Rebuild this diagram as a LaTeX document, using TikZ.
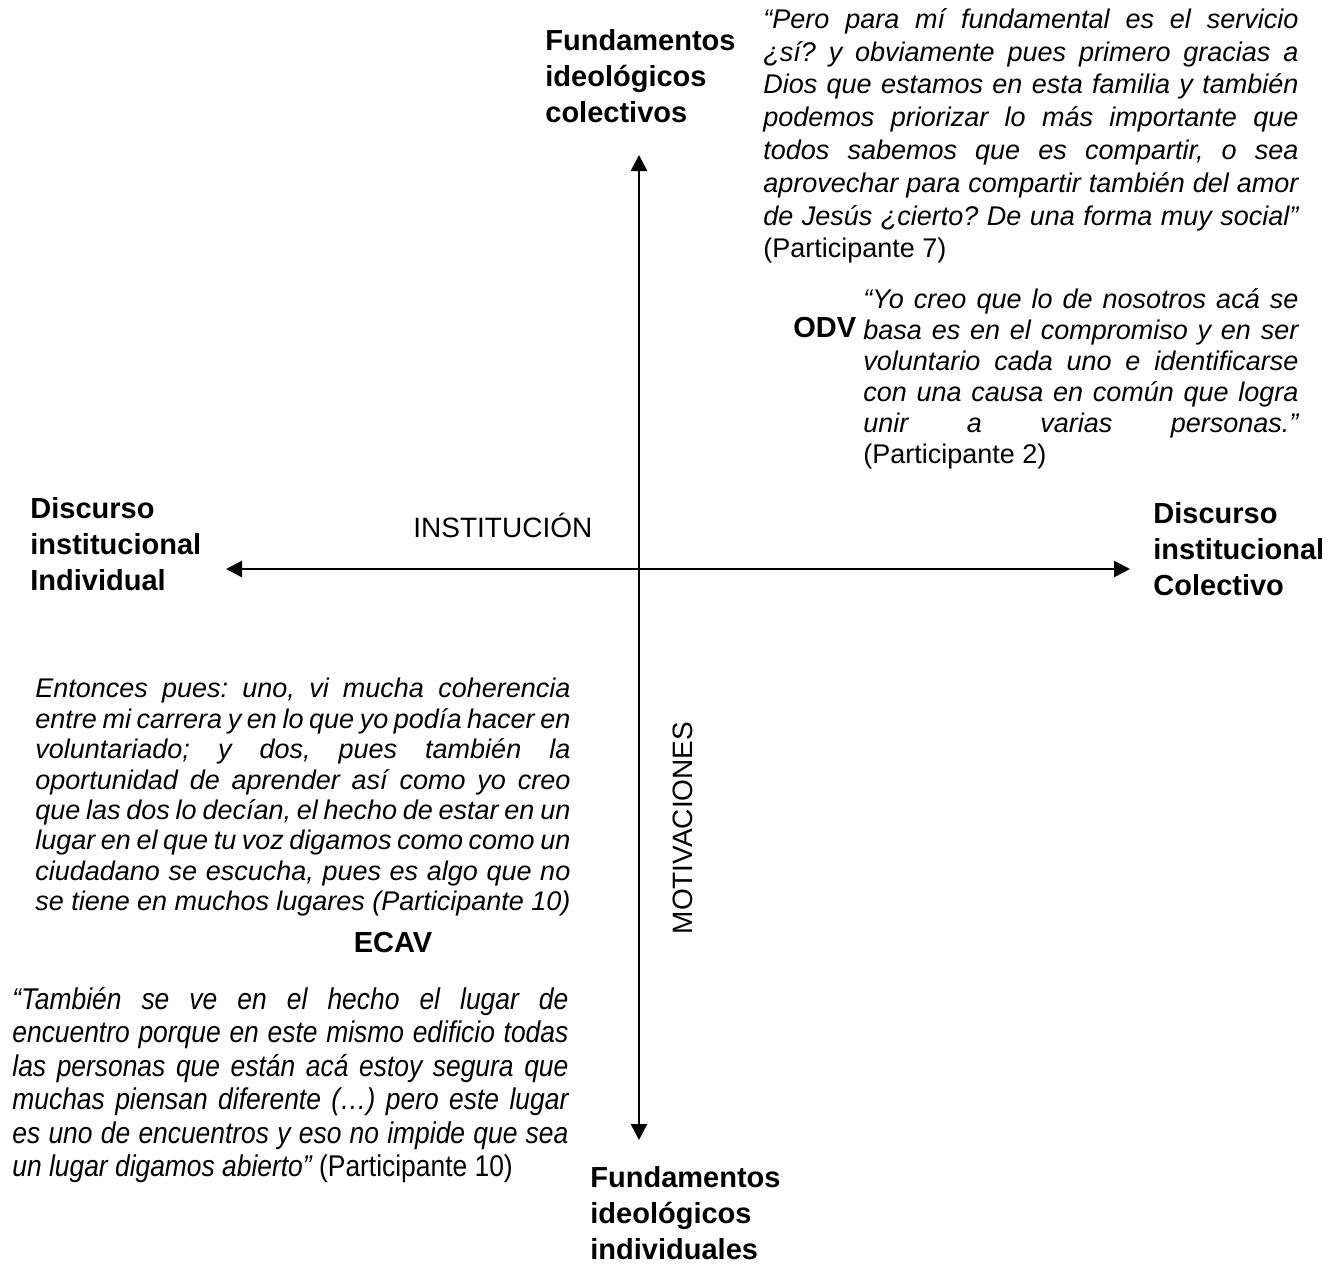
\documentclass[tikz,border=0pt]{standalone}
\usepackage{fontspec}
\setmainfont{Liberation Sans}
\newfontfamily\tallfont[FakeStretch=0.88]{Liberation Sans}
\usetikzlibrary{arrows.meta}
\frenchspacing

\begin{document}
\begin{tikzpicture}[
  x=0.5pt, y=-0.5pt,
  axis/.style={{Triangle[length=8pt,width=8pt]}-{Triangle[length=8pt,width=8pt]}, line width=1.3pt},
  pole/.style={font=\fontsize{14.5}{18}\selectfont\bfseries, align=left, anchor=north west, inner sep=0pt},
  quotebox/.style={font=\fontsize{13.5}{15.2}\selectfont\itshape, align=justify, anchor=north west, inner sep=0pt},
  axislabel/.style={font=\fontsize{14}{17}\selectfont, inner sep=0pt}
]
\useasboundingbox (0,0) rectangle (1339,1264);

% axis ends
\coordinate (n) at (639,155);
\coordinate (s) at (639,1140);
\coordinate (w) at (226,569);
\coordinate (e) at (1130,569);

\draw[axis] (s) -- (n);
\draw[axis] (w) -- (e);

% poles
\node[pole] (fundcol) at (545,29) {Fundamentos\\ideológicos\\colectivos};
\node[pole] (fundind) at (590,1166) {Fundamentos\\ideológicos\\individuales};
\node[pole] (discind) at (30,497) {Discurso\\institucional\\Individual};
\node[pole] (disccol) at (1153,502) {Discurso\\institucional\\Colectivo};

\node[axislabel, anchor=west] (inst) at (413,525) {INSTITUCIÓN};
\node[axislabel, rotate=90] (motiv) at (683,828) {MOTIVACIONES};

% organisations
\node[pole] (odv) at (793,317) {ODV};
\node[pole, anchor=center] (ecav) at (393,943) {ECAV};

% quotes
\node[quotebox, text width=267.5pt, font=\fontsize{13.5}{16.4}\selectfont\itshape] (pseven) at (763,8) {“Pero para mí fundamental es el servicio \linebreak ¿sí? y obviamente pues primero gracias a \linebreak Dios que estamos en esta familia y también \linebreak podemos priorizar lo más importante que \linebreak todos sabemos que es compartir, o sea \linebreak aprovechar para compartir también del amor \linebreak de Jesús ¿cierto? De una forma muy social” \linebreak {\upshape(Participante 7)}};
\node[quotebox, text width=217.5pt, font=\fontsize{13.5}{15.5}\selectfont\itshape] (ptwo) at (863,288) {“Yo creo que lo de nosotros acá se \linebreak basa es en el compromiso y en ser \linebreak voluntario cada uno e identificarse \linebreak con una causa en común que logra \linebreak unir a varias personas.” \linebreak {\upshape(Participante 2)}};
\node[quotebox, text width=267.5pt] (pten) at (35,678) {Entonces pues: uno, vi mucha coherencia \linebreak entre mi carrera y en lo que yo podía hacer en \linebreak voluntariado; y dos, pues también la \linebreak oportunidad de aprender así como yo creo \linebreak que las dos lo decían, el hecho de estar en un \linebreak lugar en el que tu voz digamos como como un \linebreak ciudadano se escucha, pues es algo que no \linebreak se tiene en muchos lugares (Participante 10)};
\node[quotebox, text width=278pt, font=\tallfont\fontsize{15}{16.7}\selectfont\itshape] (ptenb) at (12,987) {“También se ve en el hecho el lugar de \linebreak encuentro porque en este mismo  edificio todas \linebreak las personas que están acá estoy segura que \linebreak muchas piensan diferente (…) pero este lugar \linebreak es uno de encuentros y eso no impide que sea \linebreak un lugar digamos abierto” {\upshape(Participante 10)}};
\end{tikzpicture}
\end{document}
